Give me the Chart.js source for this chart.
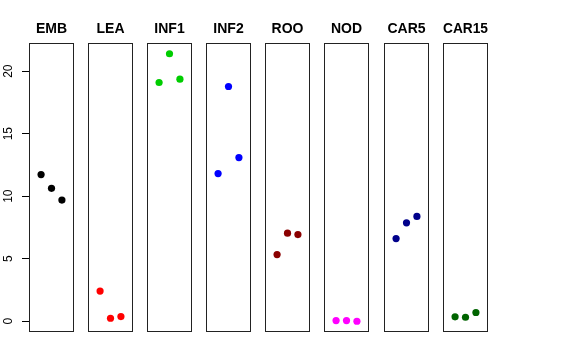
<!DOCTYPE html>
<html>
<head>
<meta charset="utf-8">
<script src="https://cdn.jsdelivr.net/npm/chart.js@4.4.1/dist/chart.umd.min.js"></script>
<style>
  html, body { margin: 0; padding: 0; background: #fff; }
  #wrap { position: relative; width: 576px; height: 360px; }
  #wrap canvas { position: absolute; top: 0; }
</style>
</head>
<body>
<div id="wrap"></div>
<script>
// tissues, one panel each
const panels = ['EMB', 'LEA', 'INF1', 'INF2', 'ROO', 'NOD', 'CAR5', 'CAR15'];
const colors = ['#000000', '#FF0000', '#00CD00', '#0000FF', '#8B0000', '#FF00FF', '#00008B', '#006400'];
const replicates = [1, 2, 3];
const EMB   = [11.73, 10.63, 9.69];
const LEA   = [2.41, 0.24, 0.37];
const INF1  = [19.09, 21.39, 19.36];
const INF2  = [11.81, 18.77, 13.09];
const ROO   = [5.33, 7.04, 6.93];
const NOD   = [0.05, 0.05, 0.0];
const CAR5  = [6.61, 7.87, 8.38];
const CAR15 = [0.35, 0.32, 0.70];
const series = [EMB, LEA, INF1, INF2, ROO, NOD, CAR5, CAR15];
const yTicks = [0, 5, 10, 15, 20];

const FONT = '"Liberation Sans", Arial, Helvetica, sans-serif';
const boxLeft = [29, 88, 147, 206, 265, 324, 384, 443];
const boxW = 45;
const axisW = 29;

// panel frame like R's box()
const boxPlugin = {
  id: 'box',
  afterDraw (chart) {
    const a = chart.chartArea;
    const ctx = chart.ctx;
    ctx.save();
    ctx.strokeStyle = '#222';
    ctx.lineWidth = 1;
    ctx.strokeRect(Math.round(a.left) + 0.5, Math.round(a.top) + 0.5,
      Math.round(a.right - a.left) - 1, Math.round(a.bottom - a.top) - 1);
    ctx.restore();
  }
};

const wrap = document.getElementById('wrap');

panels.forEach((name, i) => {
  const first = i === 0;
  const cv = document.createElement('canvas');
  cv.width = first ? axisW + boxW : boxW;
  cv.height = 340;
  cv.style.left = (first ? 0 : boxLeft[i]) + 'px';
  wrap.appendChild(cv);

  new Chart(cv, {
    type: 'scatter',
    data: {
      datasets: [{
        data: replicates.map((r, k) => ({ x: r, y: series[i][k] })),
        backgroundColor: colors[i],
        borderColor: colors[i],
        borderWidth: 0,
        pointRadius: 3.6,
        pointHoverRadius: 3.6
      }]
    },
    options: {
      responsive: false,
      animation: false,
      events: [],
      layout: { autoPadding: false, padding: { top: 0, bottom: 8, left: 0, right: 0 } },
      plugins: {
        legend: { display: false },
        tooltip: { enabled: false },
        title: {
          display: true,
          text: name,
          fullSize: false,
          color: '#000',
          font: { family: FONT, size: 14, weight: 'bold' },
          padding: { top: 21, bottom: 5.2 }
        }
      },
      scales: {
        x: { type: 'linear', min: -0.16, max: 4.16, display: false },
        y: {
          min: -0.86,
          max: 22.25,
          display: first,
          afterBuildTicks: s => { s.ticks = yTicks.map(v => ({ value: v })); },
          afterFit: s => {
            if (!first) return;
            s.width = axisW;
            s.paddingTop = 0;
            s.paddingBottom = 0;
          },
          border: { display: false },
          grid: { drawOnChartArea: false, drawTicks: true, tickLength: 7, color: '#000', lineWidth: 1 },
          ticks: {
            minRotation: 90,
            maxRotation: 90,
            crossAlign: 'center',
            padding: 7,
            color: '#000',
            font: { family: FONT, size: 12 }
          }
        }
      }
    },
    plugins: [boxPlugin]
  });
});
</script>
</body>
</html>
